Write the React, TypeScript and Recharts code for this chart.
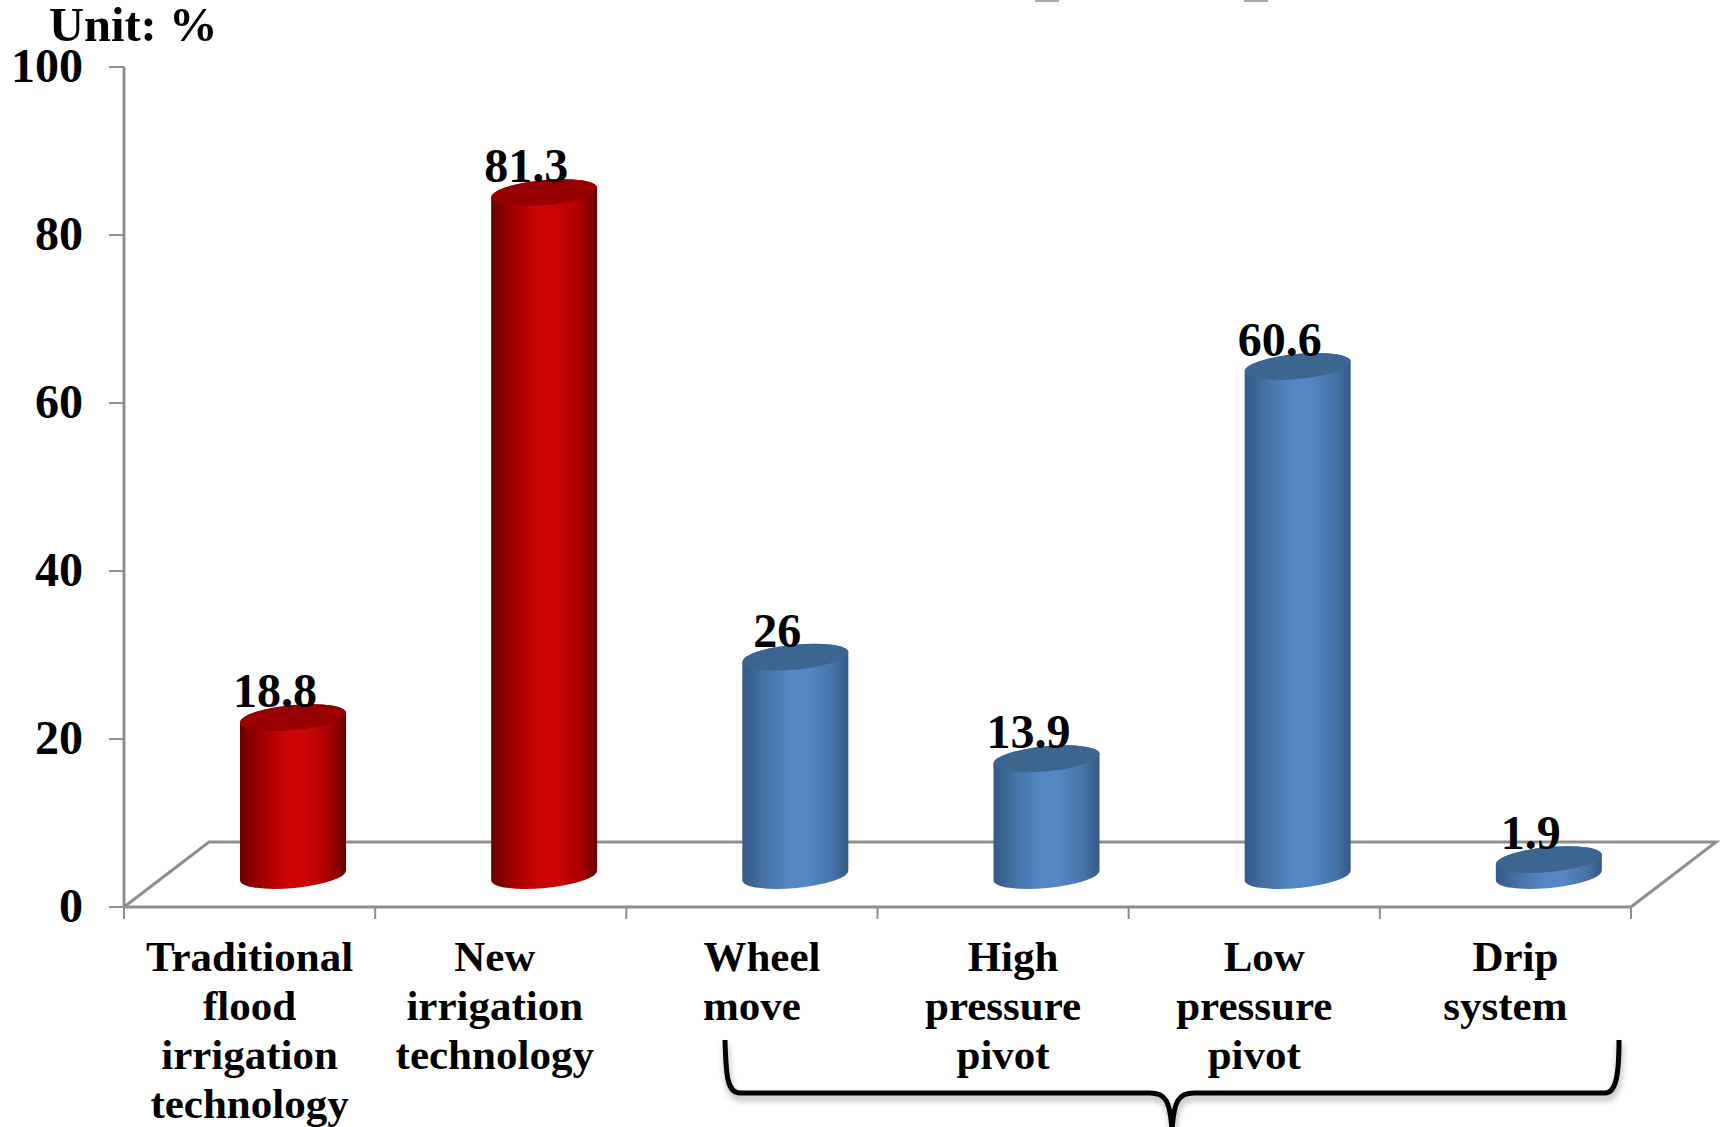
import { BarChart, Bar, XAxis, YAxis, LabelList } from 'recharts'

const categories = [
  ['Traditional', 'flood', 'irrigation', 'technology'],
  ['New', 'irrigation', 'technology'],
  ['Wheel', 'move'],
  ['High', 'pressure', 'pivot'],
  ['Low', 'pressure', 'pivot'],
  ['Drip', 'system'],
]
const values = [18.8, 81.3, 26, 13.9, 60.6, 1.9]
const groups = ['red', 'red', 'blue', 'blue', 'blue', 'blue']
const yTicks = [0, 20, 40, 60, 80, 100]

const data = categories.map((lines, i) => ({
  name: lines.join(' '),
  lines,
  value: values[i],
  group: groups[i],
}))

const WIDTH = 1723
const HEIGHT = 1127
const PLOT_LEFT = 124
const PLOT_RIGHT = 1631
const PLOT_TOP = 67
const PLOT_BOTTOM = 907
const BAND = (PLOT_RIGHT - PLOT_LEFT) / categories.length
const DEPTH_X = 85
const DEPTH_Y = 65
const AXIS = '#8e8e8e'
const FONT = '"Liberation Serif", "Times New Roman", serif'

// bars stand in the middle of the floor, not on the front edge
const BAR_DX = 43
const BAR_DY = -31.5
const TILT = 5

// first lines of the labels sit off-centre in the original
const firstLineNudge = [0, -6, 10, 10, 10, 10]
const restNudge = [0, -6, 0, 0, 0, 0]

function Cylinder(props: any) {
  const { x, y, width, height, payload } = props
  const left = x + BAR_DX
  const right = left + width
  const top = y + BAR_DY
  const bottom = y + height + BAR_DY
  const rx = Math.hypot(width / 2, TILT)
  const ry = 12.5
  const rot = (Math.atan2(-TILT, width / 2) * 180) / Math.PI
  const arc = (px: number, py: number) => `A${rx} ${ry} ${rot} 0 0 ${px} ${py}`
  const body =
    `M${left} ${top + TILT} L${left} ${bottom + TILT} ` +
    arc(right, bottom - TILT) +
    ` L${right} ${top - TILT} ` +
    arc(left, top + TILT) +
    ' Z'
  const cap =
    `M${left} ${top + TILT} ` +
    arc(right, top - TILT) +
    ' ' +
    arc(left, top + TILT) +
    ' Z'
  return (
    <g>
      <path d={body} fill={`url(#${payload.group}Body)`} />
      <path d={cap} fill={payload.group === 'red' ? '#960000' : '#3c658f'} />
    </g>
  )
}

function CategoryTick(props: any) {
  const { x, index } = props
  const lines = categories[index]
  return (
    <g>
      <line x1={x - BAND / 2} x2={x - BAND / 2} y1={PLOT_BOTTOM} y2={PLOT_BOTTOM + 12} stroke={AXIS} strokeWidth={2} />
      {index === categories.length - 1 && (
        <line x1={x + BAND / 2} x2={x + BAND / 2} y1={PLOT_BOTTOM} y2={PLOT_BOTTOM + 12} stroke={AXIS} strokeWidth={2} />
      )}
      {lines.map((line, i) => (
        <text
          key={i}
          x={x + (i === 0 ? firstLineNudge[index] : restNudge[index])}
          y={971 + i * 49}
          textAnchor="middle"
          fontFamily={FONT}
          fontWeight="bold"
          fontSize={43}
          fill="#000"
        >
          {line}
        </text>
      ))}
    </g>
  )
}

function ValueLabel(props: any) {
  const { x, y, width, value } = props
  return (
    <text
      x={x + width / 2 + BAR_DX - 18}
      y={y - 42}
      textAnchor="middle"
      fontFamily={FONT}
      fontWeight="bold"
      fontSize={48}
      fill="#000"
    >
      {value}
    </text>
  )
}

function BodyGradient({ id, edge, mid, core }: { id: string; edge: string; mid: string; core: string }) {
  return (
    <linearGradient id={id} x1="0" x2="1" y1="0" y2="0">
      <stop offset="0%" stopColor={edge} />
      <stop offset="22%" stopColor={mid} />
      <stop offset="45%" stopColor={core} />
      <stop offset="62%" stopColor={core} />
      <stop offset="85%" stopColor={mid} />
      <stop offset="100%" stopColor={edge} />
    </linearGradient>
  )
}

export default function App() {
  return (
    <div style={{ position: 'absolute', left: 0, top: 0, width: WIDTH, height: HEIGHT, overflow: 'hidden', background: '#fff' }}>
      <svg width={WIDTH} height={HEIGHT} style={{ position: 'absolute', left: 0, top: 0 }}>
        <path
          d={`M${PLOT_LEFT} ${PLOT_BOTTOM} L${PLOT_LEFT + DEPTH_X} ${PLOT_BOTTOM - DEPTH_Y} L${PLOT_RIGHT + DEPTH_X} ${PLOT_BOTTOM - DEPTH_Y} L${PLOT_RIGHT} ${PLOT_BOTTOM}`}
          fill="none"
          stroke={AXIS}
          strokeWidth={3}
        />
      </svg>
      <div style={{ position: 'absolute', left: 0, top: 0 }}>
        <BarChart
          width={WIDTH}
          height={HEIGHT}
          data={data}
          margin={{ top: PLOT_TOP, right: WIDTH - PLOT_RIGHT, bottom: 0, left: 0 }}
          barCategoryGap={0}
        >
          <defs>
            <BodyGradient id="redBody" edge="#680000" mid="#a80000" core="#cc0404" />
            <BodyGradient id="blueBody" edge="#345a85" mid="#4673a8" core="#5587c7" />
          </defs>
          <XAxis
            dataKey="name"
            height={HEIGHT - PLOT_BOTTOM}
            interval={0}
            axisLine={{ stroke: AXIS, strokeWidth: 3 }}
            tickLine={false}
            tick={<CategoryTick />}
          />
          <YAxis
            domain={[0, 100]}
            ticks={yTicks}
            width={PLOT_LEFT}
            axisLine={{ stroke: AXIS, strokeWidth: 3 }}
            tickLine={{ stroke: AXIS, strokeWidth: 2 }}
            tickSize={15}
            tickMargin={26}
            tick={{ fontFamily: FONT, fontWeight: 'bold', fontSize: 48, fill: '#000', dy: -2 }}
          />
          <Bar dataKey="value" barSize={106} shape={<Cylinder />} isAnimationActive={false}>
            <LabelList dataKey="value" content={<ValueLabel />} />
          </Bar>
        </BarChart>
      </div>
      <svg width={WIDTH} height={HEIGHT} style={{ position: 'absolute', left: 0, top: 0, pointerEvents: 'none' }}>
        <defs>
          <filter id="braceShadow" x="-5%" y="-20%" width="110%" height="150%">
            <feDropShadow dx="1" dy="5" stdDeviation="3" floodColor="#000" floodOpacity="0.3" />
          </filter>
        </defs>
        <text x={49} y={41} fontFamily={FONT} fontWeight="bold" fontSize={48.5} fill="#000">
          Unit: %
        </text>
        <rect x={1035} y={0} width={24} height={2} fill="#aaa" />
        <rect x={1244} y={0} width={24} height={2} fill="#aaa" />
        <path
          d="M725 1040 C726 1075 727 1093 740 1093 L1150 1093 C1165 1093 1170 1100 1172 1130 C1174 1100 1179 1093 1194 1093 L1605 1093 C1616 1093 1619 1075 1619 1040"
          fill="none"
          stroke="#000"
          strokeWidth={5}
          filter="url(#braceShadow)"
        />
      </svg>
    </div>
  )
}
